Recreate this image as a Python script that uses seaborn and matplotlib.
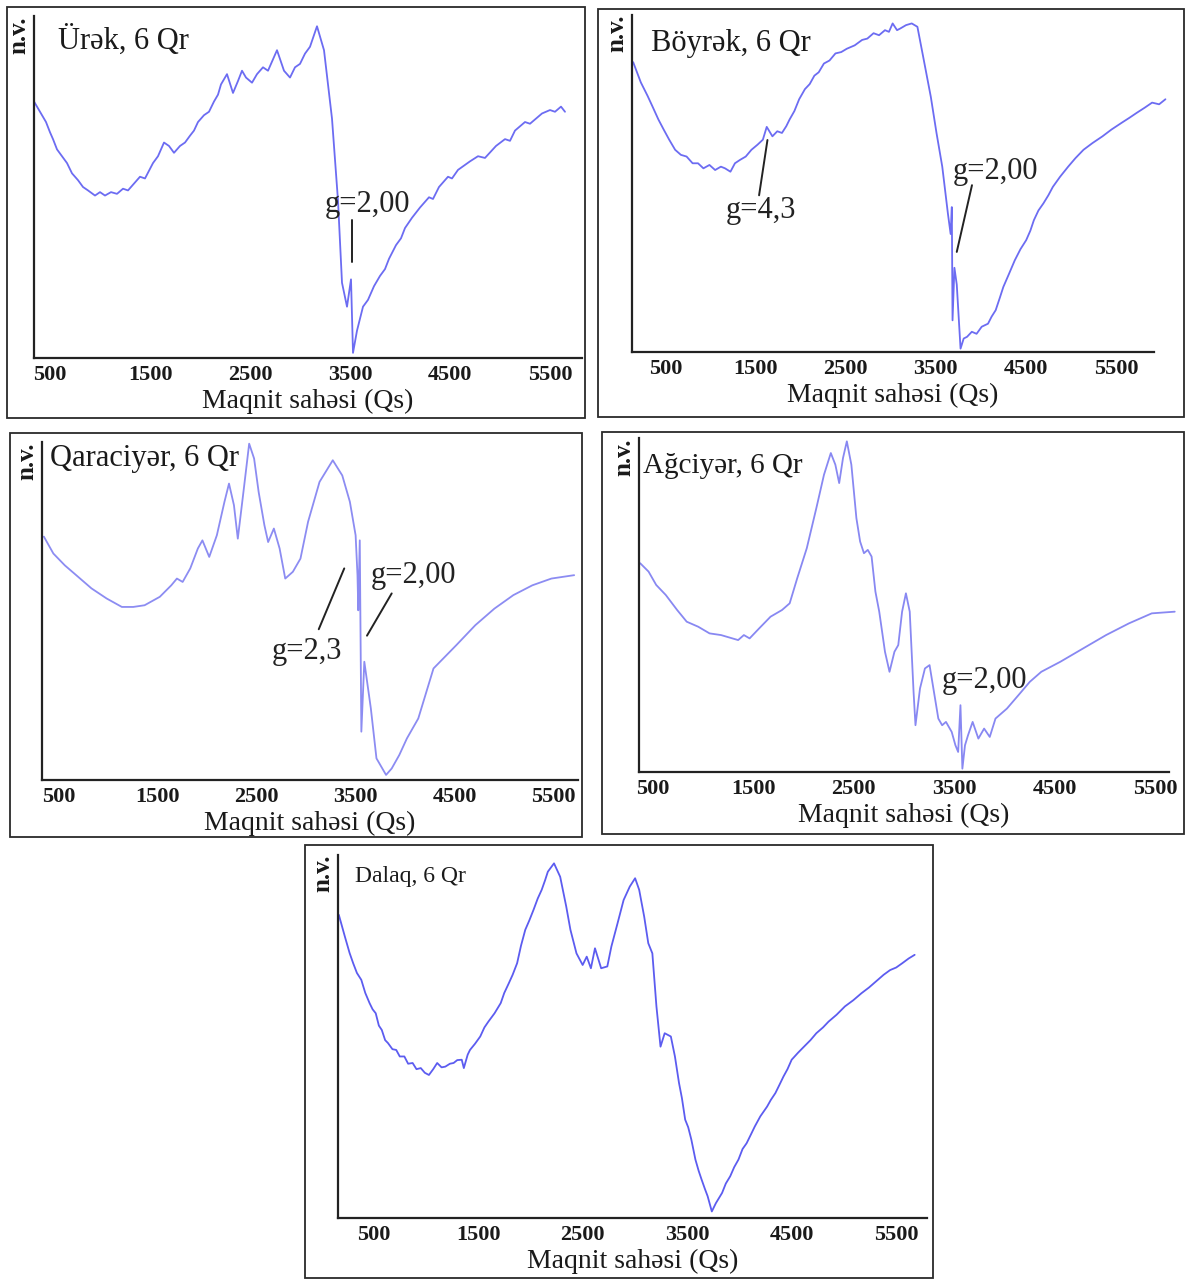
import matplotlib
matplotlib.use("Agg")
import matplotlib.pyplot as plt
import seaborn as sns
import pandas as pd
from matplotlib.patches import Rectangle
from matplotlib.ticker import MultipleLocator, FixedLocator

sns.set_theme(style="white")
plt.rcParams["font.family"] = ["Liberation Serif", "DejaVu Serif"]

# EPR spectra, field in Qs, intensity in arbitrary units (n.v.)
urek_field = [340, 400, 460, 500, 530, 570, 620, 670, 720, 780, 830, 880, 950, 1000, 1050,
              1110, 1170, 1230, 1280, 1340, 1400, 1450, 1530, 1580, 1640, 1690, 1740, 1800,
              1850, 1900, 1940, 1980, 2040, 2090, 2140, 2180, 2210, 2270, 2330, 2380, 2420,
              2460, 2520, 2570, 2630, 2680, 2770, 2840, 2900, 2950, 3000, 3050, 3100, 3170,
              3240, 3320, 3380, 3420, 3470, 3510, 3530, 3570, 3630, 3680, 3740, 3800, 3850,
              3890, 3960, 4010, 4050, 4120, 4200, 4290, 4330, 4390, 4480, 4520, 4580, 4700,
              4780, 4850, 4960, 5050, 5100, 5150, 5250, 5300, 5420, 5500, 5550, 5610, 5650]
urek_int = [75, 72, 69, 66, 64, 61, 59, 57, 54, 52, 50, 49, 47.5, 48.5, 47.5,
            48.5, 48, 49.5, 49, 51, 53, 52.5, 57, 59, 63, 62, 60, 62,
            63, 65, 66.5, 69, 71, 72, 75, 77, 80, 83, 77.5, 81, 84,
            82, 80.5, 83, 85, 84, 90, 84, 82, 85, 86, 89, 91, 97,
            90, 70, 46, 22, 15, 23, 1.5, 8, 15, 17, 21, 24, 26,
            29, 33, 35, 38, 41, 44, 47, 46.5, 50, 53, 52.5, 55, 57.5,
            59, 58.5, 62, 64, 63.5, 66.5, 69, 68.5, 71.5, 72.5, 72, 73.5, 72]

boyrek_field = [140, 225, 300, 352, 420, 479, 540, 606, 670, 733, 800, 860, 920, 987, 1050,
                1114, 1160, 1220, 1270, 1326, 1390, 1453, 1520, 1580, 1623, 1686, 1740, 1792,
                1840, 1877, 1930, 1983, 2047, 2100, 2152, 2200, 2258, 2320, 2386, 2450, 2513,
                2600, 2682, 2740, 2809, 2870, 2936, 2980, 3021, 3070, 3106, 3170, 3233, 3296,
                3360, 3445, 3508, 3572, 3635, 3665, 3678, 3686, 3707, 3733, 3775, 3810, 3847,
                3900, 3953, 4010, 4080, 4120, 4165, 4210, 4250, 4310, 4377, 4440, 4504, 4550,
                4589, 4640, 4695, 4750, 4800, 4880, 4970, 5050, 5140, 5240, 5351, 5450, 5563,
                5650, 5733, 5820, 5902, 5980, 6050]
boyrek_int = [86, 80, 76, 73, 69, 66, 63, 60, 58.5, 58, 56, 56, 54.5, 55.5, 54,
              55, 54.5, 53.5, 56, 57, 58, 60, 61.5, 63, 66.8, 64, 65.5, 65,
              67, 69, 71.5, 75, 78, 79.5, 82, 83, 85.6, 86.5, 88.6, 89, 90,
              91, 92.6, 93, 94.6, 94, 95.5, 95, 97.5, 95.5, 96, 97, 97.5, 96.5,
              87.6, 75.7, 65, 55, 41, 35, 43, 9.4, 25, 20, 1, 4, 4.5,
              6, 5.4, 7.5, 8.4, 10.5, 12.4, 16, 19.3, 23, 27.2, 30.5, 33.2, 36,
              39.1, 42, 44.1, 46.5, 49, 52, 55, 57.5, 60, 62, 64, 66, 68,
              69.5, 71, 72.5, 74, 73.5, 75]

qara_field = [346, 442, 558, 673, 827, 981, 1135, 1250, 1365, 1519, 1635, 1692, 1750, 1827,
              1904, 1950, 2019, 2096, 2173, 2219, 2269, 2308, 2365, 2423, 2473, 2519, 2577,
              2615, 2673, 2731, 2788, 2865, 2942, 3019, 3135, 3269, 3365, 3442, 3500, 3519,
              3527, 3542, 3558, 3588, 3654, 3711, 3808, 3865, 3942, 4019, 4134, 4288, 4519,
              4711, 4904, 5096, 5288, 5481, 5711]
qara_int = [72, 67, 63.5, 60.6, 56.7, 53.7, 51.2, 51.2, 51.7, 54.2, 57.6, 59.6, 58.6, 62.6,
            68.5, 70.9, 66, 72.4, 82.3, 87.7, 81.3, 71.4, 85.2, 99.5, 95.1, 85.2, 75.4,
            70.4, 74.4, 68.5, 59.6, 61.6, 65.5, 76.4, 88.2, 94.6, 90.1, 82.3, 72.4, 60.6,
            50.2, 70.9, 14.3, 35, 21.2, 6.4, 1.5, 3.4, 7.4, 12.3, 18.2, 33, 39.9,
            45.8, 50.7, 54.7, 57.6, 59.6, 60.6]

agciyer_field = [379, 462, 538, 633, 746, 841, 955, 1068, 1182, 1295, 1352, 1409, 1466, 1561,
                 1674, 1788, 1864, 1939, 2034, 2129, 2205, 2273, 2318, 2356, 2394, 2432, 2477,
                 2527, 2564, 2602, 2640, 2678, 2716, 2754, 2811, 2856, 2905, 2943, 2981, 3019,
                 3057, 3095, 3114, 3159, 3208, 3254, 3292, 3341, 3379, 3417, 3474, 3511, 3538,
                 3561, 3580, 3606, 3636, 3682, 3739, 3796, 3852, 3909, 4023, 4137, 4250, 4364,
                 4553, 4780, 5008, 5235, 5462, 5690]
agciyer_int = [62.5, 60, 56, 53, 48.5, 45, 43.5, 41.5, 41, 40, 39.5, 41, 40, 43,
               46.5, 48.5, 50.5, 58, 67, 79, 89, 95.5, 92, 86.5, 94, 99, 92,
               76, 69, 65.5, 66.5, 64.5, 54, 48, 36, 30, 36, 38, 48, 53.5,
               48, 24, 14, 25, 31, 32, 25, 16, 14, 15, 12, 8, 6,
               20, 1, 8, 11, 15, 10, 13, 10.5, 16, 19, 23, 27, 30,
               33, 37, 41, 44.5, 47.5, 48]

dalaq_field = [167, 225, 270, 304, 340, 382, 420, 461, 490, 520, 550, 578, 610, 637, 680,
               716, 750, 794, 830, 873, 910, 951, 990, 1029, 1070, 1108, 1150, 1186, 1230,
               1265, 1300, 1343, 1363, 1400, 1422, 1470, 1520, 1560, 1598, 1657, 1716, 1750,
               1794, 1830, 1873, 1910, 1951, 1990, 2030, 2070, 2108, 2140, 2167, 2226, 2285,
               2343, 2383, 2441, 2500, 2539, 2579, 2618, 2677, 2736, 2775, 2834, 2892, 2951,
               3002, 3041, 3089, 3128, 3167, 3206, 3245, 3285, 3344, 3383, 3422, 3450, 3481,
               3510, 3540, 3579, 3610, 3638, 3670, 3696, 3736, 3775, 3834, 3870, 3912, 3950,
               3991, 4030, 4069, 4110, 4147, 4200, 4265, 4300, 4344, 4380, 4422, 4460, 4500,
               4560, 4618, 4680, 4736, 4800, 4853, 4930, 5010, 5090, 5167, 5240, 5324, 5380,
               5442, 5500, 5559, 5620, 5677]
dalaq_int = [83.5, 77.5, 73, 70.2, 67.5, 65.6, 62, 59.2, 57.5, 56.4, 53, 51.8, 49, 48.2, 46.5,
             46.3, 44.5, 44.5, 42.5, 42.7, 41, 41.3, 40, 39.4, 41, 42.7, 41.5, 41.7, 42.5,
             42.7, 43.5, 43.6, 41.3, 45, 46.3, 48, 50, 52.5, 54.1, 56.4, 59.2, 62,
             64.7, 67, 70.2, 75, 79.4, 82, 84.9, 88, 90.4, 93, 95.4, 97.7, 94,
             85.8, 79.4, 72.9, 69.7, 72, 68.8, 74.3, 68.8, 69.3, 74.8, 81.2, 87.6, 91.3,
             93.6, 90.4, 83, 75.7, 72.9, 58.3, 47.2, 50.9, 50, 44.5, 37.2, 33, 27.1,
             25, 21.6, 16.1, 13, 10.6, 8, 6, 1.8, 4.1, 6.9, 9.5, 11.5, 14,
             16.1, 19, 20.6, 23, 25.2, 28, 30.7, 32.5, 34.4, 36.5, 39, 41, 43.6,
             45.5, 47.2, 49, 50.9, 52.5, 54.1, 56, 58.3, 60, 61.9, 63.5, 65.6, 67,
             68.3, 69, 70.2, 71.5, 72.5]

tick_values = [500, 1500, 2500, 3500, 4500, 5500]
xlabel = "Maqnit sahəsi (Qs)"

W, H = 1193, 1280
fig = plt.figure(figsize=(W / 100, H / 100), dpi=100)


def rect(l, t, r, b):
    return [l / W, 1 - b / H, (r - l) / W, (b - t) / H]


panels = [
    # frame, axes, xlim, field, intensity, title, title pos, title size, colour
    ((7, 7, 585, 418), (34, 16, 582, 358), (340, 5820), urek_field, urek_int,
     "Ürək, 6 Qr", (0.044, 0.93), 22, "#6c6cf2"),
    ((598, 9, 1184, 417), (632, 15, 1154, 352), (127, 5923), boyrek_field, boyrek_int,
     "Böyrək, 6 Qr", (0.037, 0.915), 22, "#6c6cf2"),
    ((10, 433, 582, 837), (42, 442, 578, 780), (327, 5750), qara_field, qara_int,
     "Qaraciyər, 6 Qr", (0.014, 0.95), 22, "#8c8cf2"),
    ((602, 432, 1184, 834), (639, 438, 1169, 772), (367, 5633), agciyer_field, agciyer_int,
     "Ağciyər, 6 Qr", (0.007, 0.915), 21, "#8888f2"),
    ((305, 845, 933, 1278), (338, 855, 927, 1218), (159, 5795), dalaq_field, dalaq_int,
     "Dalaq, 6 Qr", (0.029, 0.94), 17, "#5c5cf0"),
]

axes = []
for frame, box, xlim, fx, fy, title, tpos, tsize, col in panels:
    fl, ft, fr, fb = frame
    fig.patches.append(Rectangle((fl / W, 1 - fb / H), (fr - fl) / W, (fb - ft) / H,
                                 transform=fig.transFigure, fill=False,
                                 edgecolor="#2a2a2a", linewidth=1.3))
    ax = fig.add_axes(rect(*box))
    df = pd.DataFrame({"field": fx, "nv": fy})
    sns.lineplot(data=df, x="field", y="nv", ax=ax, color=col, linewidth=1.3,
                 sort=False, estimator=None, clip_on=False)
    ax.set_xlim(*xlim)
    ax.set_ylim(0, 100)
    ax.set_facecolor("white")
    for s in ["top", "right"]:
        ax.spines[s].set_visible(False)
    for s in ["left", "bottom"]:
        ax.spines[s].set_color("#222222")
        ax.spines[s].set_linewidth(1.6)
    ax.xaxis.set_major_locator(FixedLocator(tick_values))
    ax.set_xticklabels([str(v) for v in tick_values], fontsize=16, fontweight="bold",
                       color="#1a1a1a")
    ax.xaxis.set_minor_locator(MultipleLocator(500))
    ax.tick_params(axis="x", which="major", length=2, pad=3, color="#999999", direction="out")
    ax.tick_params(axis="x", which="minor", length=2, color="#bbbbbb", direction="out")
    ax.yaxis.set_major_locator(MultipleLocator(7.5))
    ax.set_yticklabels([])
    ax.tick_params(axis="y", which="major", length=2, color="#bbbbbb", direction="in")
    ax.set_xlabel(xlabel, fontsize=20, color="#1a1a1a", labelpad=3)
    ax.set_ylabel("")
    ax.text(-0.006, 1.0, "n.v.", rotation=90, ha="right", va="top", fontsize=18,
            fontweight="bold", color="#1a1a1a", transform=ax.transAxes)
    ax.text(tpos[0], tpos[1], title, ha="left", va="center", fontsize=tsize,
            color="#1a1a1a", transform=ax.transAxes)
    axes.append(ax)

ann = dict(fontsize=22, color="#222222", ha="center", va="center")
line = dict(color="#222222", linewidth=1.4)

# Ürək
axes[0].text(3680, 45, "g=2,00", **ann)
axes[0].plot([3520, 3520], [40.4, 28.1], **line)
# Böyrək
axes[1].text(1559, 42, "g=4,3", **ann)
axes[1].plot([1538, 1631], [46.5, 62.9], **line)
axes[1].text(4165, 53.5, "g=2,00", **ann)
axes[1].plot([3902, 3733], [49.5, 29.7], **line)
# Qaraciyər
axes[2].text(3008, 38, "g=2,3", **ann)
axes[2].plot([3127, 3385], [44.6, 62.6], **line)
axes[2].text(4085, 60.6, "g=2,00", **ann)
axes[2].plot([3615, 3865], [42.7, 55.2], **line)
# Ağciyər
axes[3].text(3796, 27.5, "g=2,00", **ann)

fig.savefig("out.png", dpi=100, facecolor="white")
